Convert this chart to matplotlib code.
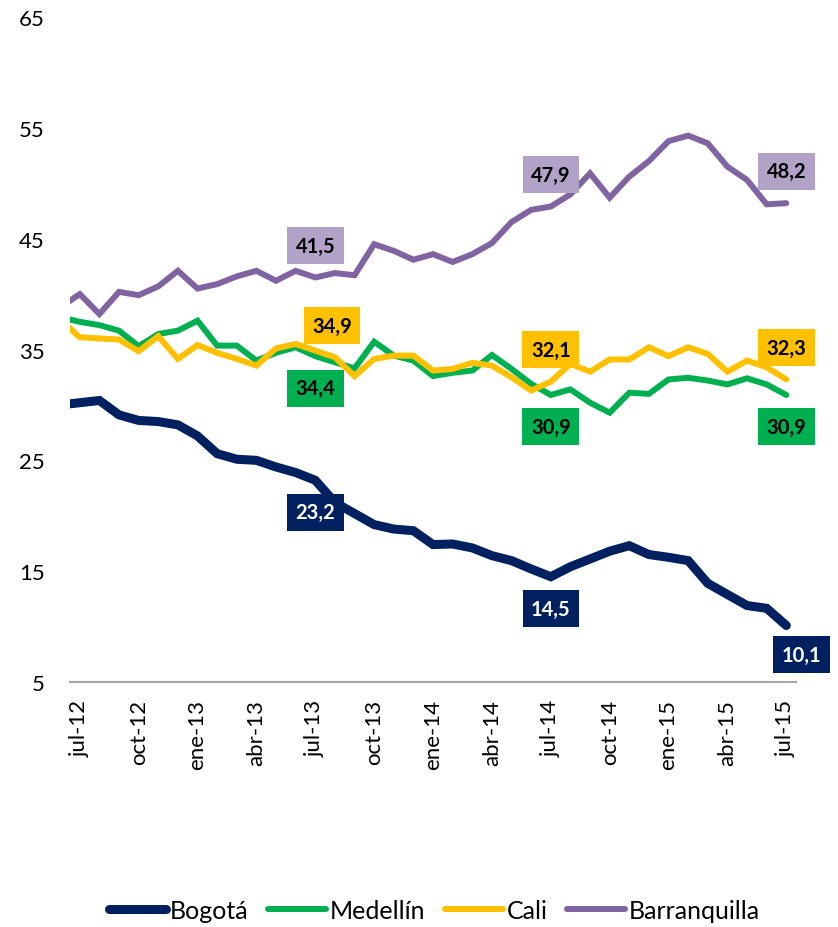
import numpy as np
import matplotlib
matplotlib.use('Agg')
import matplotlib.pyplot as plt

# monthly series, jun-12 .. jul-15 (jun-12 sits just outside the left edge)
bogota = [30.0, 30.2, 30.4, 29.1, 28.6, 28.5, 28.2, 27.2, 25.6, 25.1, 25.0, 24.4, 23.9, 23.2,
          21.2, 20.2, 19.2, 18.8, 18.65, 17.4, 17.45, 17.1, 16.4, 15.95, 15.2, 14.5, 15.4, 16.1,
          16.8, 17.3, 16.5, 16.25, 15.95, 13.9, 12.9, 11.9, 11.65, 10.1]
medellin = [37.9, 37.5, 37.2, 36.7, 35.3, 36.4, 36.7, 37.6, 35.35, 35.35, 34.0, 34.7, 35.2, 34.4,
            33.85, 33.3, 35.7, 34.45, 34.0, 32.6, 32.9, 33.1, 34.5, 33.25, 31.9, 30.9, 31.4, 30.2,
            29.3, 31.1, 31.0, 32.3, 32.45, 32.2, 31.85, 32.4, 31.85, 30.9]
cali = [37.7, 36.1, 36.0, 35.9, 34.85, 36.2, 34.15, 35.4, 34.7, 34.15, 33.55, 35.1, 35.5, 34.9,
        34.3, 32.6, 34.15, 34.45, 34.45, 33.1, 33.25, 33.8, 33.55, 32.5, 31.3, 32.1, 33.7, 33.0,
        34.1, 34.1, 35.2, 34.4, 35.2, 34.6, 33.0, 34.0, 33.4, 32.3]
barranquilla = [38.8, 40.0, 38.2, 40.2, 39.9, 40.7, 42.1, 40.5, 40.9, 41.6, 42.1, 41.2, 42.1, 41.5,
                41.9, 41.7, 44.5, 43.9, 43.1, 43.6, 42.9, 43.6, 44.6, 46.5, 47.6, 47.9, 49.0, 50.9,
                48.7, 50.6, 52.0, 53.8, 54.3, 53.6, 51.5, 50.3, 48.1, 48.2]

tick_labels = ['jul-12', 'oct-12', 'ene-13', 'abr-13', 'jul-13', 'oct-13', 'ene-14',
               'abr-14', 'jul-14', 'oct-14', 'ene-15', 'abr-15', 'jul-15']
label_months = [12, 24, 36]  # jul-13, jul-14, jul-15 (index from jul-12)

x = np.arange(-1, len(bogota) - 1)

series = [
    ('Bogotá', bogota, '#002060', 6.5, '#002060', 'white', -23),
    ('Medellín', medellin, '#00B050', 4.3, '#00B050', 'black', -23),
    ('Cali', cali, '#FFC000', 4.3, '#FFC000', 'black', 23),
    ('Barranquilla', barranquilla, '#8064A2', 4.3, '#B3A2C7', 'black', 23),
]

plt.rcParams['font.family'] = ['Lato', 'DejaVu Sans']

fig = plt.figure(figsize=(8.38, 9.28), dpi=100)
ax = fig.add_axes([0.0835, 0.264, 0.8665, 0.7166])

for name, vals, col, lw, boxcol, txtcol, dy in series:
    ax.plot(x, vals, color=col, lw=lw, label=name, solid_capstyle='round',
            solid_joinstyle='miter')
    for m in label_months:
        v = vals[m + 1]
        dx = 0
        ddy = dy
        if name == 'Cali' and m == 12:
            dx, ddy = 12, 18
        if name == 'Bogotá' and m == 36:
            dx, ddy = 11, -21
        ax.annotate(f'{v:.1f}'.replace('.', ','), (m, v), xytext=(dx, ddy),
                    textcoords='offset points', ha='center', va='center',
                    fontsize=14.5, fontweight='bold', color=txtcol,
                    bbox=dict(boxstyle='square,pad=0.42', fc=boxcol, ec='none'),
                    annotation_clip=False)

ax.set_xlim(-0.5, 36.5)
ax.set_ylim(5, 65)
ax.set_yticks(range(5, 66, 10))
ax.set_xticks(range(0, 37, 3))
ax.set_xticklabels(tick_labels, rotation=90)
ax.tick_params(axis='y', length=0, pad=18, labelsize=16)
ax.tick_params(axis='x', length=0, pad=12, labelsize=16)
for s in ['left', 'right', 'top']:
    ax.spines[s].set_visible(False)
ax.spines['bottom'].set_color('#A6A6A6')
ax.spines['bottom'].set_linewidth(1.5)

fig.legend(loc='center', bbox_to_anchor=(0.518, 0.018), ncol=4, frameon=False,
           prop={'size': 18}, handlelength=2.3, handletextpad=0.15,
           columnspacing=0.8)

fig.savefig('out.png', dpi=100)
